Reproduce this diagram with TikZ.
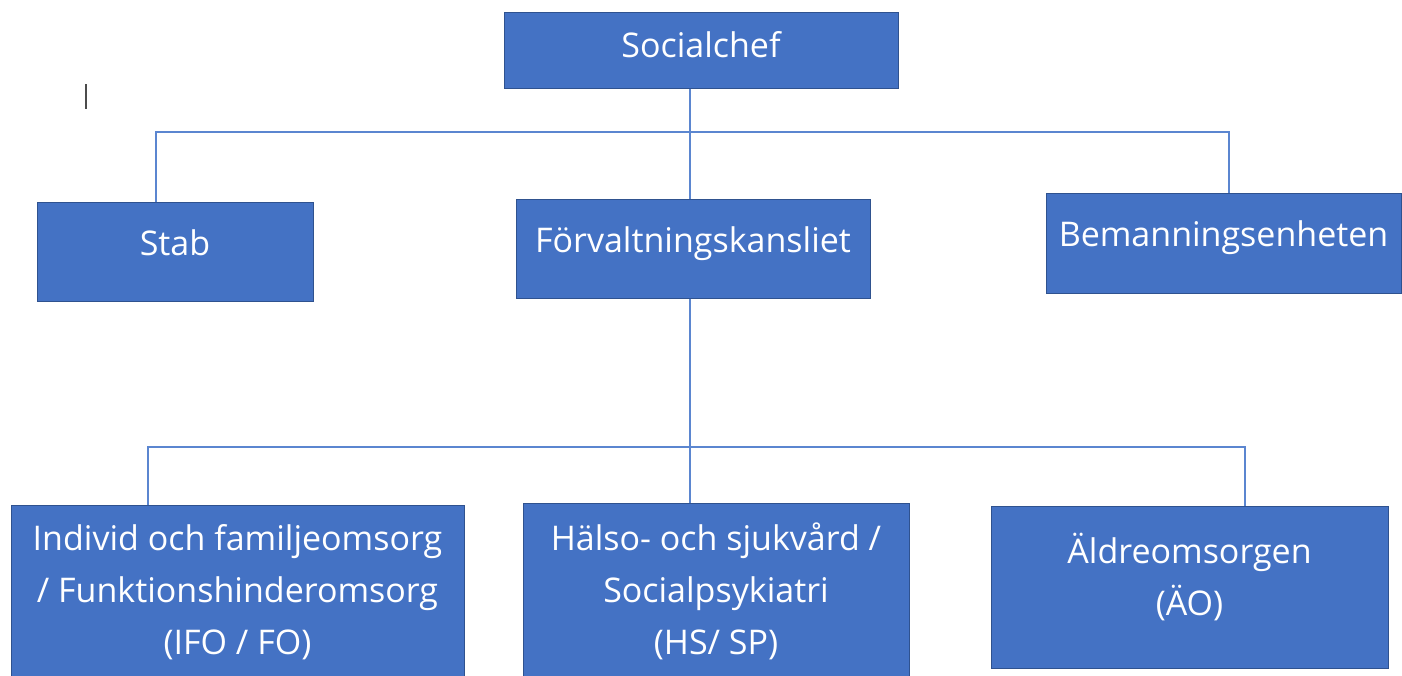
\documentclass[tikz,border=0pt]{standalone}
\usepackage{fontspec}
\setmainfont{Open Sans}
\usepackage{tikz}
\usetikzlibrary{positioning}
\definecolor{boxblue}{HTML}{4472C4}
\definecolor{boxedge}{HTML}{2F528F}
\definecolor{linkblue}{HTML}{5B86D0}

\begin{document}
\begin{tikzpicture}[x=1pt,y=-1pt,
		unit/.style={draw=boxedge,line width=1pt,fill=boxblue,text=white,align=center,
			inner sep=0pt,font=\fontsize{34}{52}\selectfont},
		link/.style={draw=linkblue,line width=1.5pt}]
		\clip (0,0) rectangle (1402,675);
		\fill[white] (0,0) rectangle (1402,675);
		
		\node[unit,minimum width=394pt,minimum height=76pt,text height=26pt,text depth=12pt] (chef) at (701,50) {Socialchef};
		\node[unit,minimum width=276pt,minimum height=99pt,text height=26pt,text depth=19pt] (stab) at (175,251.5) {Stab};
		\node[unit,minimum width=354pt,minimum height=99pt,text height=26pt,text depth=19pt] (kansli) at (693,248.5) {Förvaltningskansliet};
		\node[unit,minimum width=355pt,minimum height=100pt,text height=26pt,text depth=19pt] (beman) at (1223.5,243) {Bemanningsenheten};
		
		\node[unit,minimum width=453pt,minimum height=174pt] (ifo) at (237.5,592) {Individ och familjeomsorg\\/ Funktionshinderomsorg\\(IFO / FO)};
		\node[unit,minimum width=386pt,minimum height=176pt] (hs) at (716,591) {Hälso- och sjukvård /\\Socialpsykiatri\\(HS/ SP)};
		\node[unit,minimum width=397pt,minimum height=162pt,text depth=26pt] (ao) at (1189.5,587) {Äldreomsorgen\\(ÄO)};
		
		\coordinate (top) at (690,132);
		\coordinate (topl) at (156,132);
		\coordinate (topr) at (1229,132);
		\coordinate (mid) at (690,447);
		\coordinate (midl) at (148,447);
		\coordinate (midr) at (1245,447);
		
		\draw[link] (chef.south -| top) -- (kansli.north -| top);
		\draw[link] (stab.north -| topl) -- (topl) -- (topr) -- (beman.north -| topr);
		\draw[link] (kansli.south -| mid) -- (hs.north -| mid);
		\draw[link] (ifo.north -| midl) -- (midl) -- (midr) -- (ao.north -| midr);
		
		\draw[black!70,line width=1.2pt] (86,84) -- (86,109);
\end{tikzpicture}
\end{document}
